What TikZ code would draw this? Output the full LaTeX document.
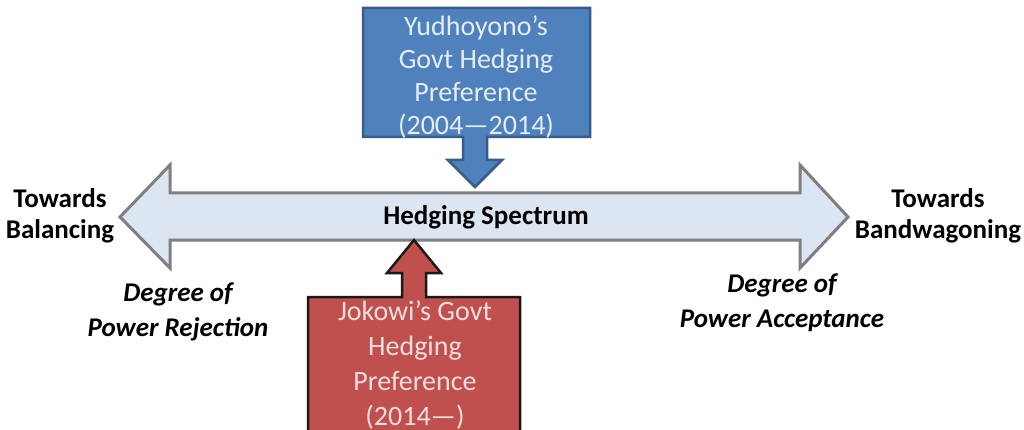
\documentclass[tikz,border=0pt]{standalone}
\usepackage{fontspec}
\setmainfont{Carlito}
\definecolor{spec}{HTML}{DCE6F2}
\definecolor{specline}{HTML}{7F7F7F}
\definecolor{bluefill}{HTML}{4F81BD}
\definecolor{blueline}{HTML}{385D8A}
\definecolor{redfill}{HTML}{C0504D}
\definecolor{redline}{HTML}{1A1A1A}
\definecolor{bluetxt}{HTML}{E6ECF5}
\definecolor{redtxt}{HTML}{F5DEDD}
\begin{document}
\begin{tikzpicture}[x=1pt,y=-1pt,
  lbl/.style={font=\fontsize{27}{31}\selectfont\bfseries, align=center, inner sep=0pt},
  ilbl/.style={font=\fontsize{27}{35}\selectfont\bfseries\itshape, align=center, inner sep=0pt},
  btxt/.style={font=\fontsize{28}{33}\selectfont, align=center, inner sep=0pt, text=bluetxt},
  rtxt/.style={font=\fontsize{28}{35}\selectfont, align=center, inner sep=0pt, text=redtxt}]
\useasboundingbox (0,0) rectangle (1024,430);
\clip (0,0) rectangle (1024,430);
\fill[white] (0,0) rectangle (1024,430);
% spectrum double arrow
\draw[fill=spec, draw=specline, line width=3pt, line join=miter]
  (120,217) -- (170,165) -- (170,193) -- (800,193) -- (800,165) -- (848,217)
  -- (800,268) -- (800,240) -- (170,240) -- (170,268) -- cycle;
% blue callout
\draw[fill=bluefill, draw=blueline, line width=2.5pt, line join=miter]
  (363,8) -- (590,8) -- (590,137) -- (487,137) -- (487,160) -- (502,160) -- (475,187)
  -- (448,160) -- (463,160) -- (463,137) -- (363,137) -- cycle;
% red callout
\draw[fill=redfill, draw=redline, line width=2.5pt, line join=miter]
  (308,445) -- (308,297) -- (402,297) -- (402,273) -- (387,273) -- (414,240)
  -- (441,273) -- (426,273) -- (426,297) -- (520,297) -- (520,445);
\node[btxt] (yud) at (476,77) {Yudhoyono’s\\Govt Hedging\\Preference\\(2004—2014)};
\node[rtxt, anchor=north] (jok) at (415,301) {Jokowi’s Govt\\Hedging\\Preference\\(2014—)};
\node[lbl] (hs) at (486,217) {Hedging Spectrum};
\node[lbl] (bal) at (60,216) {Towards\\Balancing};
\node[lbl] (band) at (938,216) {Towards\\Bandwagoning};
\node[ilbl] (rej) at (178,312) {Degree of\\Power Rejection};
\node[ilbl] (acc) at (782,303) {Degree of\\Power Acceptance};
\end{tikzpicture}
\end{document}
